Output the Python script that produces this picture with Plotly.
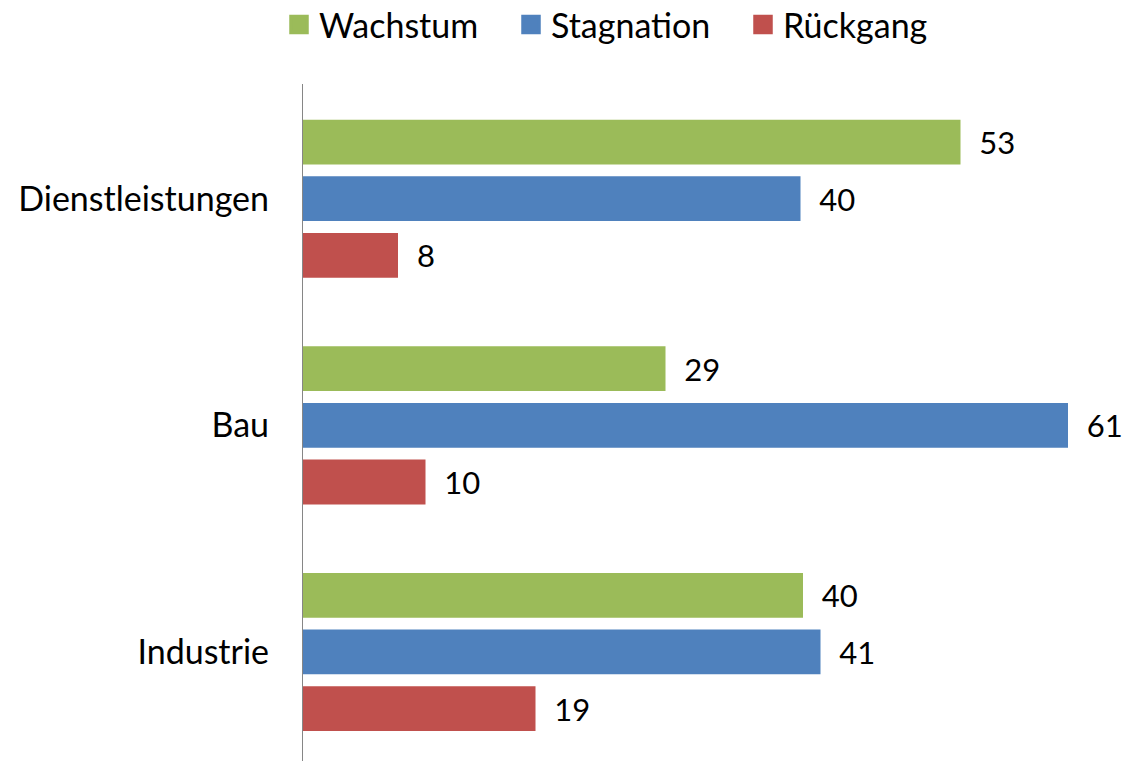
import plotly.graph_objects as go

categories = ["Dienstleistungen", "Bau", "Industrie"]
series_names = ["Wachstum", "Stagnation", "Rückgang"]
wachstum = [52.6, 29.0, 40.0]
stagnation = [39.8, 61.2, 41.4]
rueckgang = [7.6, 9.8, 18.6]
colors = ["#9BBB59", "#4F81BD", "#C0504D"]

FONT = "Lato"
fig = go.Figure()
for name, vals, col in zip(series_names, [wachstum, stagnation, rueckgang], colors):
    fig.add_trace(go.Bar(
        y=categories, x=vals, name=name, orientation="h",
        marker=dict(color=col, line=dict(width=0)),
        texttemplate="\u00a0\u00a0%{x:.0f}", textposition="outside",
        textfont=dict(family=FONT, size=31, color="black"),
        constraintext="none", cliponaxis=False, showlegend=False,
    ))
    fig.add_trace(go.Scatter(
        x=[None], y=[None], mode="markers", name=name,
        marker=dict(symbol="square", size=21, color=col, line=dict(width=3.5, color=col)),
    ))

fig.update_layout(
    width=1123, height=761,
    margin=dict(l=303, r=0, t=84, b=0),
    paper_bgcolor="white", plot_bgcolor="white",
    barmode="group", bargap=0.25, bargroupgap=0.21,
    font=dict(family=FONT, size=34, color="black"),
    legend=dict(orientation="h", xref="container", yref="container",
                x=279 / 1123, xanchor="left", y=1 - 25 / 761, yanchor="middle",
                entrywidth=187, entrywidthmode="pixels",
                font=dict(family=FONT, size=34, color="black"),
                itemclick=False),
    xaxis=dict(range=[0, 65.6], showgrid=False, zeroline=False,
               showline=False, showticklabels=False, ticks=""),
    yaxis=dict(type="category", categoryorder="array", categoryarray=categories,
               range=[2.481, -0.506], showgrid=False, zeroline=False,
               showline=True, linecolor="#868686", linewidth=1.3,
               ticks="", ticklabelstandoff=26,
               tickfont=dict(family=FONT, size=34, color="black")),
)

fig.write_html("out.html", config={"displayModeBar": False},
               post_script="document.body.style.margin='0';document.body.style.padding='0';")
